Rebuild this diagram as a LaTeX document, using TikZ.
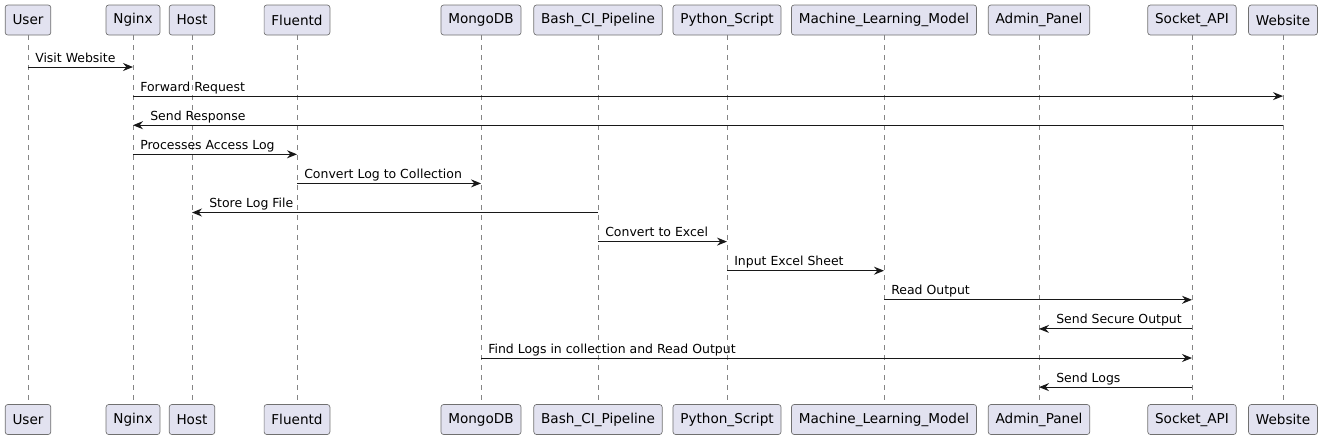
\documentclass[tikz,border=0pt]{standalone}
\usepackage{fontspec}
\setmainfont{DejaVu Sans}
\usetikzlibrary{arrows.meta}
\definecolor{boxfill}{HTML}{E2E2F0}
\definecolor{boxline}{HTML}{707070}
\definecolor{lifegray}{HTML}{858585}
\definecolor{umlline}{HTML}{181818}

\begin{document}
\begin{tikzpicture}[
		x=0.75pt, y=-0.75pt,
		every node/.style = {font=\fontsize{9.35}{11}\selectfont},
		participant/.style = {
			shape=rectangle, rounded corners=2pt,
			draw=boxline, line width=0.5pt, fill=boxfill,
			font=\fontsize{10.2}{12}\selectfont,
			minimum height=22.5pt, inner xsep=5.5pt, inner ysep=0pt},
		lifeline/.style = {draw=lifegray, line width=0.5pt,
			dash pattern=on 3.75pt off 3.75pt},
		message/.style = {draw=umlline, line width=0.75pt,
			-{Stealth[length=7.5pt, width=6pt, inset=2.5pt]}},
		msglabel/.style = {anchor=base west, inner sep=0pt}]

	\useasboundingbox (0,0) rectangle (1323,440);

	% participants, top and bottom, with their lifelines
	\foreach \id/\name/\x in {user/User/28, nginx/Nginx/133, host/Host/192,
			fluentd/Fluentd/297, mongo/MongoDB/481, bash/Bash\_CI\_Pipeline/598,
			python/Python\_Script/727, ml/Machine\_Learning\_Model/884,
			admin/Admin\_Panel/1039, socket/Socket\_API/1192, web/Website/1283}{
		\node[participant] (\id-top) at (\x,20) {\name};
		\node[participant] (\id-bot) at (\x,419.5) {\name};
		\draw[lifeline] (\id-top) -- (\id-bot);
	}

	% messages
	\foreach \src/\dst/\txt/\lft/\dx [count=\i] in {
			user/nginx/Visit Website/from/7,
			nginx/web/Forward Request/from/7,
			web/nginx/Send Response/to/17,
			nginx/fluentd/Processes Access Log/from/7,
			fluentd/mongo/Convert Log to Collection/from/7,
			bash/host/Store Log File/to/17,
			bash/python/Convert to Excel/from/7,
			python/ml/Input Excel Sheet/from/7,
			ml/socket/Read Output/from/7,
			socket/admin/Send Secure Output/to/17,
			mongo/socket/Find Logs in collection and Read Output/from/7,
			socket/admin/Send Logs/to/17}{
		\pgfmathsetmacro\y{67+(\i-1)*29.1}
		\coordinate (m\i-from) at (\src-top |- 0,\y);
		\coordinate (m\i-to) at (\dst-top |- 0,\y);
		\draw[message] (m\i-from) -- (m\i-to);
		\node[msglabel] at ([shift={(\dx,-5)}]m\i-\lft) {\txt};
	}
\end{tikzpicture}
\end{document}
